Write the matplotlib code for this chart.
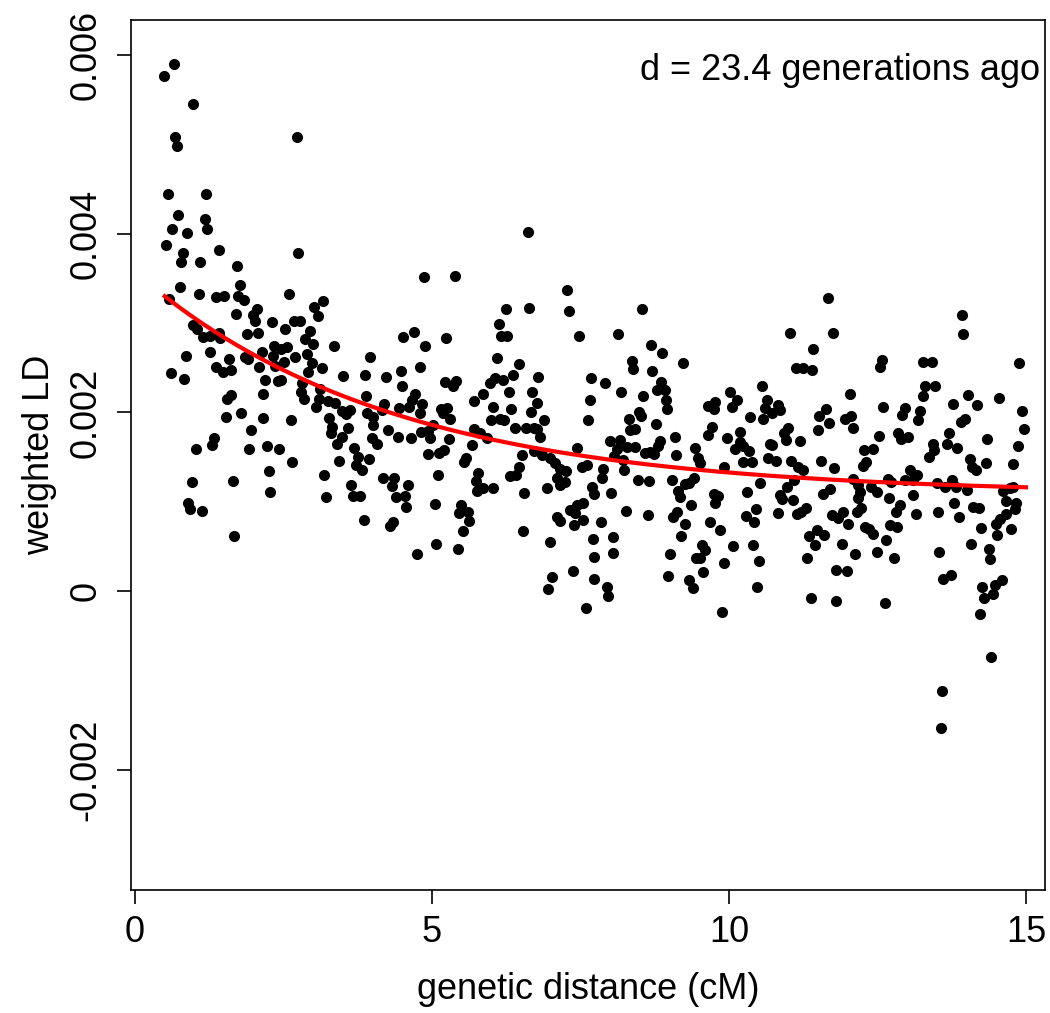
import numpy as np
import matplotlib
matplotlib.use("Agg")
import matplotlib.pyplot as plt

plt.rcParams['font.family'] = ['Liberation Sans', 'DejaVu Sans']
plt.rcParams['axes.unicode_minus'] = False

# weighted LD points: (genetic distance in cM, weighted LD x 1e-3)
pts_a = [(0.65, 5.90), (0.49, 5.77), (0.97, 5.45), (0.67, 5.08), (0.70, 4.98), (0.55, 4.44), (1.20, 4.45),
         (0.73, 4.21), (1.17, 4.17), (0.62, 4.05), (1.22, 4.05), (0.87, 4.01), (0.52, 3.87), (1.42, 3.82),
         (0.80, 3.78), (0.77, 3.68), (1.09, 3.68), (1.72, 3.64), (1.77, 3.43), (0.75, 3.40), (1.07, 3.33),
         (1.36, 3.29), (1.50, 3.30), (1.74, 3.30), (1.84, 3.26), (0.57, 3.27), (2.05, 3.16), (1.99, 3.09),
         (1.70, 3.10), (2.02, 3.02), (0.98, 2.98), (1.05, 2.93), (1.15, 2.84), (1.26, 2.85), (1.41, 2.89),
         (1.43, 2.83), (1.88, 2.88), (2.07, 2.89), (2.13, 2.68), (0.85, 2.63), (1.27, 2.68), (1.85, 2.62),
         (1.91, 2.60), (1.58, 2.60), (2.09, 2.51), (1.36, 2.51), (1.48, 2.45), (1.61, 2.47), (0.60, 2.44),
         (0.82, 2.37), (1.62, 2.20), (1.55, 2.15), (2.16, 2.21), (1.53, 1.95), (1.79, 1.99), (2.15, 1.94),
         (1.95, 1.80), (1.33, 1.71), (1.29, 1.64), (1.03, 1.59), (1.92, 1.59), (0.96, 1.22), (1.65, 1.23),
         (0.90, 0.98), (0.93, 0.92), (1.12, 0.90), (1.67, 0.62)]

pts_b = [(2.73, 5.08), (2.75, 3.79), (2.60, 3.32), (3.01, 3.18), (3.08, 3.08), (3.17, 3.25), (2.30, 3.01),
         (2.67, 3.02), (2.78, 3.02), (2.52, 2.93), (2.94, 2.91), (2.86, 2.82), (2.99, 2.77), (3.35, 2.74),
         (2.34, 2.74), (2.45, 2.71), (2.56, 2.73), (2.32, 2.63), (2.36, 2.52), (2.50, 2.56), (2.69, 2.62),
         (2.90, 2.65), (2.98, 2.55), (2.92, 2.45), (3.14, 2.50), (3.96, 2.62), (2.19, 2.36), (2.40, 2.35),
         (2.45, 2.36), (3.51, 2.41), (3.87, 2.42), (2.81, 2.33), (2.80, 2.23), (2.85, 2.15), (3.11, 2.26),
         (3.05, 2.06), (3.10, 2.15), (3.25, 2.13), (3.37, 2.10), (3.48, 2.01), (3.55, 1.98), (3.62, 2.03),
         (3.89, 2.18), (3.91, 1.99), (4.00, 1.95), (4.01, 1.86), (2.62, 1.92), (3.27, 1.94), (3.31, 1.84),
         (3.30, 1.77), (3.59, 1.82), (3.48, 1.72), (3.40, 1.65), (3.99, 1.71), (2.22, 1.62), (2.42, 1.59),
         (3.69, 1.60), (3.43, 1.46), (2.64, 1.45), (3.76, 1.50), (3.72, 1.41), (3.82, 1.36), (3.94, 1.48),
         (2.25, 1.34), (3.19, 1.30), (2.27, 1.11), (3.64, 1.19), (3.67, 1.06), (3.79, 1.06), (3.22, 1.05),
         (3.85, 0.80)]

pts_c = [(4.87, 3.52), (5.39, 3.53), (4.52, 2.84), (4.69, 2.90), (4.89, 2.74), (5.24, 2.83), (4.23, 2.40),
         (4.47, 2.46), (4.50, 2.30), (4.79, 2.51), (5.22, 2.34), (5.40, 2.35), (5.36, 2.30), (5.86, 2.21),
         (4.19, 2.09), (4.15, 2.03), (4.71, 2.21), (4.66, 2.14), (4.62, 2.06), (4.84, 2.09), (4.79, 1.99),
         (4.44, 2.05), (5.15, 2.04), (5.26, 2.05), (5.18, 1.99), (5.30, 1.93), (5.71, 2.13), (4.26, 1.80),
         (4.42, 1.72), (4.64, 1.71), (4.82, 1.78), (4.94, 1.79), (5.02, 1.86), (4.97, 1.71), (5.29, 1.70),
         (5.70, 1.81), (5.81, 1.77), (5.67, 1.64), (4.07, 1.65), (4.94, 1.53), (5.12, 1.54), (5.20, 1.58),
         (5.57, 1.49), (5.54, 1.44), (5.10, 1.30), (4.17, 1.27), (4.36, 1.27), (4.32, 1.18), (4.59, 1.19),
         (5.78, 1.32), (5.74, 1.23), (5.76, 1.12), (5.86, 1.15), (4.39, 1.05), (4.54, 1.06), (4.57, 0.94),
         (5.05, 0.97), (5.48, 0.96), (5.46, 0.87), (5.60, 0.89), (5.63, 0.78), (5.52, 0.67), (4.34, 0.77),
         (4.29, 0.73), (5.07, 0.53), (5.44, 0.47), (4.75, 0.41)]

pts_d = [(6.61, 4.02), (7.28, 3.37), (6.24, 3.16), (6.63, 3.17), (7.31, 3.14), (6.12, 2.99), (6.17, 2.85),
         (6.27, 2.85), (7.48, 2.86), (6.09, 2.61), (6.47, 2.54), (6.06, 2.39), (6.19, 2.36), (5.97, 2.33),
         (6.36, 2.42), (6.79, 2.40), (7.68, 2.39), (6.29, 2.23), (6.68, 2.23), (6.77, 2.11), (7.66, 2.14),
         (6.03, 2.06), (6.33, 2.04), (6.66, 2.00), (5.99, 1.92), (6.15, 1.93), (6.22, 1.92), (6.89, 1.92),
         (7.63, 1.92), (6.40, 1.83), (6.58, 1.83), (6.72, 1.82), (6.76, 1.81), (6.82, 1.72), (5.92, 1.71),
         (7.44, 1.60), (6.71, 1.57), (6.85, 1.52), (6.99, 1.49), (7.07, 1.43), (7.16, 1.37), (7.26, 1.34),
         (6.52, 1.52), (7.52, 1.39), (7.61, 1.41), (6.47, 1.39), (6.41, 1.30), (6.31, 1.29), (6.02, 1.15),
         (7.10, 1.26), (7.16, 1.19), (7.24, 1.22), (6.94, 1.15), (6.55, 1.10), (7.69, 1.17), (7.72, 1.09),
         (7.54, 0.99), (7.44, 0.96), (7.32, 0.91), (7.41, 0.87), (7.55, 0.80), (7.39, 0.74), (7.11, 0.83),
         (7.16, 0.78), (6.53, 0.67), (6.98, 0.55), (7.71, 0.58), (7.37, 0.22), (7.02, 0.16), (6.96, 0.02),
         (7.73, 0.14), (7.59, -0.19), (7.73, 0.38)]

pts_e = [(8.53, 3.16), (8.14, 2.88), (8.68, 2.75), (8.88, 2.66), (8.36, 2.57), (8.38, 2.49), (9.23, 2.55),
         (8.70, 2.46), (7.91, 2.33), (8.85, 2.34), (8.78, 2.25), (8.92, 2.25), (8.94, 2.14), (8.96, 2.04),
         (8.19, 2.23), (8.56, 2.18), (8.49, 2.00), (8.52, 1.96), (8.32, 1.93), (8.77, 1.87), (8.42, 1.81),
         (8.33, 1.80), (9.09, 1.73), (8.00, 1.68), (8.17, 1.69), (8.11, 1.59), (8.07, 1.51), (8.29, 1.61),
         (8.41, 1.61), (8.84, 1.68), (8.81, 1.62), (8.73, 1.53), (8.59, 1.54), (8.67, 1.56), (9.11, 1.52),
         (9.43, 1.60), (9.48, 1.49), (9.51, 1.43), (8.22, 1.47), (8.23, 1.36), (7.88, 1.37), (7.86, 1.26),
         (8.46, 1.24), (8.66, 1.23), (9.04, 1.24), (9.41, 1.27), (9.32, 1.21), (9.26, 1.20), (8.01, 1.10),
         (9.15, 1.12), (9.18, 1.05), (9.36, 0.96), (8.26, 0.90), (8.63, 0.85), (9.13, 0.88), (9.05, 0.83),
         (9.26, 0.75), (7.84, 0.77), (9.20, 0.62), (8.04, 0.61), (9.54, 0.52), (9.44, 0.37), (9.51, 0.37),
         (9.57, 0.21), (8.05, 0.42), (9.01, 0.41), (8.98, 0.17), (9.33, 0.12), (9.39, 0.03), (7.94, 0.04),
         (7.97, -0.06)]

pts_f = [(11.02, 2.89), (11.41, 2.71), (11.13, 2.50), (11.25, 2.50), (11.39, 2.48), (10.55, 2.30),
         (10.01, 2.23), (9.64, 2.07), (9.76, 2.12), (9.74, 2.04), (10.13, 2.14), (10.05, 2.06), (10.64, 2.14),
         (10.61, 2.05), (10.83, 2.08), (10.86, 2.03), (10.72, 1.99), (10.57, 1.93), (10.35, 1.95), (9.71, 1.84),
         (9.64, 1.75), (10.19, 1.78), (11.00, 1.83), (10.93, 1.77), (10.96, 1.69), (9.96, 1.71), (11.20, 1.68),
         (10.19, 1.67), (10.10, 1.59), (10.24, 1.62), (10.34, 1.57), (10.69, 1.65), (10.72, 1.64), (10.66, 1.49),
         (10.79, 1.46), (10.24, 1.44), (10.38, 1.45), (11.04, 1.46), (11.17, 1.39), (11.24, 1.36), (9.92, 1.39),
         (11.09, 1.24), (10.52, 1.21), (10.97, 1.17), (9.74, 1.09), (9.82, 1.06), (9.76, 0.98), (10.31, 1.11),
         (10.86, 1.08), (10.90, 1.03), (11.08, 1.02), (10.46, 0.92), (10.28, 0.84), (10.42, 0.77), (10.83, 0.87),
         (11.30, 0.93), (11.22, 0.89), (11.15, 0.86), (9.68, 0.77), (9.85, 0.68), (11.35, 0.62), (11.45, 0.52),
         (9.60, 0.46), (10.07, 0.50), (10.40, 0.52), (9.92, 0.31), (10.51, 0.34), (11.32, 0.37), (10.48, 0.04),
         (11.38, -0.08), (9.88, -0.24)]

pts_g = [(11.66, 3.28), (11.75, 2.89), (12.57, 2.59), (12.54, 2.51), (13.26, 2.56), (12.03, 2.21),
         (13.30, 2.29), (13.27, 2.18), (12.60, 2.06), (11.63, 2.04), (11.52, 1.96), (11.69, 1.88), (11.50, 1.80),
         (11.95, 1.93), (12.05, 1.96), (12.08, 1.83), (12.96, 2.05), (12.92, 1.97), (13.22, 2.01), (13.19, 1.92),
         (12.53, 1.74), (12.85, 1.77), (12.90, 1.70), (13.01, 1.73), (12.28, 1.58), (12.42, 1.59), (12.31, 1.44),
         (12.25, 1.40), (11.55, 1.46), (11.77, 1.38), (13.04, 1.36), (13.16, 1.30), (13.10, 1.24), (12.96, 1.24),
         (12.67, 1.25), (12.72, 1.22), (11.70, 1.14), (11.58, 1.09), (12.08, 1.25), (12.21, 1.11), (12.18, 1.04),
         (12.17, 1.19), (12.39, 1.16), (12.49, 1.11), (12.69, 1.04), (13.10, 1.08), (12.88, 0.96), (12.81, 0.89),
         (12.23, 0.93), (12.15, 0.88), (11.92, 0.89), (11.84, 0.82), (11.73, 0.85), (12.01, 0.75), (13.15, 0.86),
         (12.29, 0.72), (12.35, 0.69), (12.43, 0.64), (12.71, 0.74), (12.83, 0.72), (11.48, 0.68), (11.60, 0.63),
         (11.90, 0.53), (12.64, 0.57), (12.12, 0.41), (12.50, 0.44), (12.77, 0.37), (11.81, 0.24), (11.98, 0.22),
         (11.80, -0.11), (12.63, -0.13)]

pts_h = [(13.92, 3.09), (13.94, 2.88), (13.41, 2.56), (14.89, 2.55), (13.47, 2.30), (14.03, 2.20),
         (14.17, 2.08), (14.55, 2.16), (13.77, 2.09), (14.93, 2.01), (13.97, 1.93), (13.90, 1.89), (14.96, 1.81),
         (13.70, 1.77), (13.67, 1.65), (13.43, 1.65), (13.45, 1.58), (13.37, 1.50), (13.84, 1.60), (14.35, 1.70),
         (14.87, 1.62), (14.05, 1.48), (14.10, 1.39), (14.16, 1.36), (14.32, 1.43), (14.79, 1.42), (13.50, 1.21),
         (13.64, 1.17), (13.75, 1.24), (13.82, 1.16), (14.00, 1.13), (14.62, 1.12), (14.73, 1.15), (14.78, 1.17),
         (14.66, 1.01), (14.84, 0.99), (14.82, 0.92), (13.79, 0.99), (14.11, 0.94), (14.21, 0.93), (13.52, 0.89),
         (13.87, 0.83), (14.66, 0.86), (14.56, 0.81), (14.50, 0.75), (14.74, 0.69), (14.24, 0.71), (14.52, 0.63),
         (14.07, 0.53), (13.54, 0.44), (14.37, 0.47), (14.39, 0.36), (13.61, 0.14), (13.73, 0.18), (14.26, 0.05),
         (14.30, -0.08), (14.45, -0.03), (14.48, 0.07), (14.59, 0.12), (14.23, -0.26), (14.41, -0.74),
         (13.59, -1.12), (13.57, -1.53)]

# fitted exponential decay: A * exp(-d * x / 100) + C
gen_d = 23.4
fit_amp = 2.488e-3
fit_const = 1.087e-3
fit_range = (0.5, 15.0)

xticks = [0, 5, 10, 15]
yticks = [-0.002, 0, 0.002, 0.004, 0.006]
ytick_labels = ['-0.002', '0', '0.002', '0.004', '0.006']


def main():
    pts = np.array(pts_a + pts_b + pts_c + pts_d + pts_e + pts_f + pts_g + pts_h)
    dist = pts[:, 0]
    ld = pts[:, 1] * 1e-3

    fig = plt.figure(figsize=(10.5, 10.13), dpi=100)
    ax = fig.add_axes([0.1248, 0.1214, 0.8704, 0.8589])

    ax.plot(dist, ld, 'o', color='black', markersize=8, markeredgewidth=0)

    xf = np.linspace(fit_range[0], fit_range[1], 300)
    yf = fit_amp * np.exp(-gen_d * xf / 100) + fit_const
    ax.plot(xf, yf, color='#ff0000', linewidth=3)

    ax.set_xlim(-0.067, 15.32)
    ax.set_ylim(-3.348e-3, 6.394e-3)
    ax.set_xticks(xticks)
    ax.set_xticklabels([str(t) for t in xticks])
    ax.set_yticks(yticks)
    ax.set_yticklabels(ytick_labels, rotation=90, va='center')

    ax.tick_params(axis='both', labelsize=26, length=10, width=1.2, direction='out')
    ax.tick_params(axis='x', pad=8)
    ax.tick_params(axis='y', pad=10)
    for sp in ax.spines.values():
        sp.set_linewidth(1.2)

    ax.set_xlabel('genetic distance (cM)', fontsize=26)
    ax.set_ylabel('weighted LD', fontsize=26)
    ax.xaxis.set_label_coords(0.5, -0.094)
    ax.yaxis.set_label_coords(-0.081, 0.5)

    ax.text(0.9945, 0.942, 'd = %.1f generations ago' % gen_d, transform=ax.transAxes,
            ha='right', va='center', fontsize=26)

    fig.savefig('out.png', dpi=100)


if __name__ == "__main__":
    main()
